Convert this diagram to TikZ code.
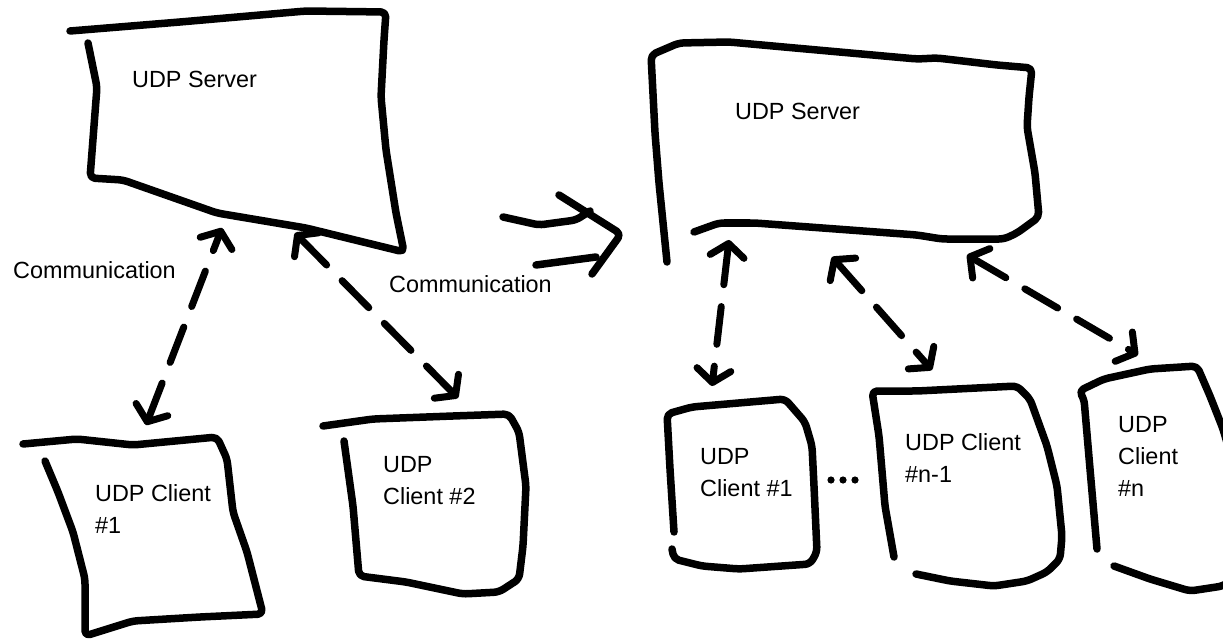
\documentclass[tikz,border=0pt]{standalone}
\usepackage{fontspec}
\setmainfont{Liberation Sans}
\usetikzlibrary{arrows.meta}
\begin{document}
\begin{tikzpicture}[x=1pt,y=-1pt,
  sketch/.style={line width=7.5pt, line cap=round, line join=round, rounded corners=5pt},
  % multi-line labels are placed by the baseline of their last line
  lbl/.style={inner sep=0pt, anchor=base west, align=left,
              font=\fontsize{23.4}{32}\selectfont},
  barb/.tip={Straight Barb[length=13pt,width=34pt,round]},
  link/.style={line width=7pt, line cap=round, dash pattern=on 38pt off 22pt, barb-barb},
]
\fill[white] (0,0) rectangle (1223,639);
\useasboundingbox (0,0) rectangle (1223,639);
\begin{scope}
\clip (0,0) rectangle (1223,639);

% ---------------- left: one server, two clients ----------------
% server outline
\draw[sketch] (70,31) -- (180,22) -- (306,11) -- (386,12) -- (384,40) -- (381,97)
  -- (386,150) -- (396,213) -- (404,252) -- (306,228) -- (217,213) -- (123,180)
  -- (90,178) -- (97,87) -- (88,43);
\node[lbl] (ls-name) at (132,88) {UDP Server};

% client #1
\draw[sketch] (23,444) -- (77,439) -- (133,445) -- (217,437) -- (227,459) -- (233,512)
  -- (247,552) -- (263,614) -- (200,617) -- (133,621) -- (85,636) -- (85,579)
  -- (73,532) -- (58,492) -- (45,461);
\node[lbl] (lc1-name) at (95,533) {UDP Client\\\#1};

% client #2
\draw[sketch] (323,426) -- (373,419) -- (453,416) -- (509,414) -- (519,432) -- (526,486)
  -- (523,546) -- (519,579) -- (499,592) -- (463,594) -- (406,582) -- (359,576)
  -- (353,506) -- (344,441);
\node[lbl] (lc2-name) at (383,504) {UDP\\Client \#2};

% link end points
\coordinate (ls-a) at (222,228);
\coordinate (lc1-top) at (146,425);
\coordinate (ls-b) at (295,233);
\coordinate (lc2-top) at (458,398);

\draw[link] (lc1-top) -- (ls-a);
\draw[link] (ls-b) -- (lc2-top);

\node[lbl] (comm-a) at (13,278) {Communication};
\node[lbl] (comm-b) at (389,292) {Communication};

% ---------------- transition arrow ----------------
\draw[sketch] (503,217) -- (539,225) -- (576,220) -- (590,211);
\draw[sketch] (536,265) -- (596,257);
\draw[sketch] (559,195) -- (621,234) -- (592,274);

% ---------------- right: one server, n clients ----------------
\draw[sketch] (667,262) -- (659,183) -- (655,133) -- (651,55) -- (679,43) -- (729,42)
  -- (795,48) -- (917,59) -- (937,58) -- (997,65) -- (1032,68) -- (1029,97)
  -- (1027,127) -- (1035,173) -- (1039,217) -- (1017,233) -- (1004,239)
  -- (942,239) -- (917,235) -- (755,223) -- (719,223) -- (694,232);
\node[lbl] (rs-name) at (735,120) {UDP Server};

% client #1
\draw[sketch] (674,532) -- (670,469) -- (667,414) -- (692,407) -- (785,399) -- (805,422)
  -- (812,446) -- (814,486) -- (817,552) -- (810,564) -- (739,569) -- (702,566)
  -- (674,559) -- (672,549);
\node[lbl] (rc1-name) at (700,496) {UDP\\Client \#1};

% the clients left out
\foreach \x [count=\i] in {831,843,855}
  \fill (\x,480) circle (3.6pt) coordinate (gap-\i);

% client #n-1
\draw[sketch] (894,557) -- (885,506) -- (879,436) -- (872,391) -- (917,391) -- (1017,386)
  -- (1030,399) -- (1047,446) -- (1057,486) -- (1062,536) -- (1060,559) -- (1047,572)
  -- (1027,581) -- (994,586) -- (950,581) -- (916,574);
\node[lbl] (rcm-name) at (905,482) {UDP Client\\\#n-1};

% client #n
\draw[sketch] (1097,549) -- (1090,469) -- (1084,399) -- (1079,391) -- (1104,379)
  -- (1150,369) -- (1197,366) -- (1210,396) -- (1223,429) -- (1232,460);
\draw[sketch] (1114,566) -- (1150,579) -- (1190,591) -- (1223,586) -- (1235,578);
\node[lbl] (rcn-name) at (1118,496) {UDP\\Client\\\#n};

% link end points
\coordinate (rs-a) at (729,240);
\coordinate (rc1-top) at (712,386);
\coordinate (rs-b) at (832,257);
\coordinate (rcm-top) at (932,370);
\coordinate (rs-c) at (967,255);
\coordinate (rcn-top) at (1138,355);

\draw[link] (rs-a) -- (rc1-top);
\draw[link] (rs-b) -- (rcm-top);
\draw[link] (rs-c) -- (rcn-top);
\end{scope}
\end{tikzpicture}
\end{document}
